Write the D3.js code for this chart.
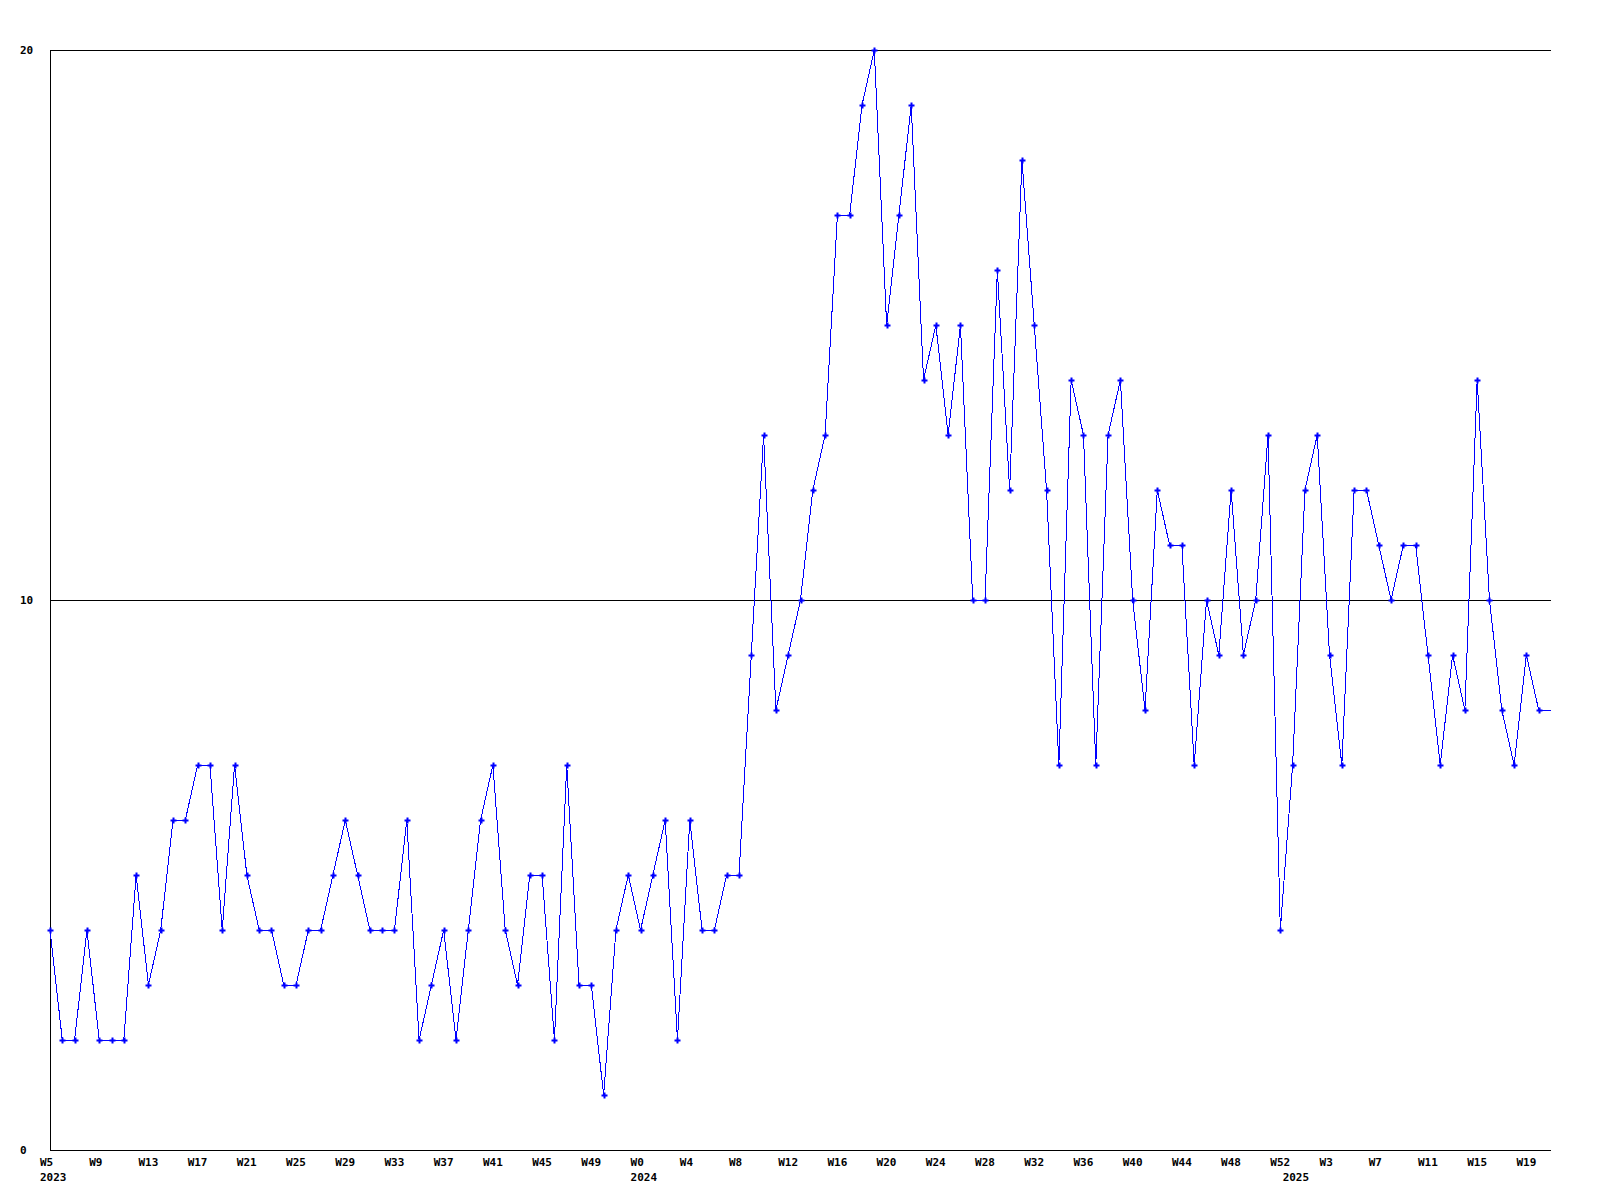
<!DOCTYPE html>
<html>
<head>
<meta charset="utf-8">
<script src="https://cdn.jsdelivr.net/npm/d3@7"></script>
<style>
  html, body { margin: 0; padding: 0; background: #ffffff; }
  svg { display: block; }
  text { font-family: "DejaVu Sans Mono", "Liberation Mono", monospace; font-weight: bold; font-size: 11px; fill: #000; }
</style>
</head>
<body>
<svg id="chart" width="1600" height="1200"></svg>
<script>
// ---- data ----
// weekly buckets: year, first week, last week
const yearRanges = [
  { year: "2023", first: 5, last: 52 },
  { year: "2024", first: 0, last: 52 },
  { year: "2025", first: 0, last: 21 }
];
const values = [
  4,2,2,4,2,2,2,5,3,4,
  6,6,7,7,4,7,5,4,4,3,
  3,4,4,5,6,5,4,4,4,6,
  2,3,4,2,4,6,7,4,3,5,
  5,2,7,3,3,1,4,5,4,5,
  6,2,6,4,4,5,5,9,13,8,
  9,10,12,13,17,17,19,20,15,17,
  19,14,15,13,15,10,10,16,12,18,
  15,12,7,14,13,7,13,14,10,8,
  12,11,11,7,10,9,12,9,10,13,
  4,7,12,13,9,7,12,12,11,10,
  11,11,9,7,9,8,14,10,8,7,
  9,8,8
];
const yTicks = [0, 10, 20];
const labelEvery = 4;

(function () {
  // categories built from the week ranges
  const categories = [];
  yearRanges.forEach(r => {
    for (let w = r.first; w <= r.last; w++) categories.push({ year: r.year, week: w });
  });
  const data = values.map((v, i) => ({ i, v, cat: categories[i] }));

  // ---- layout ----
  const svg = d3.select("#chart");
  const mL = 50, mR = 1551, mT = 50, mB = 1150;
  const x = d3.scaleLinear().domain([0, categories.length - 1]).range([mL, mR]);
  const y = d3.scaleLinear().domain([0, 20]).range([mB, mT]);

  // grid lines (10, 20)
  svg.append("g").selectAll("line")
    .data(yTicks.filter(t => t > 0))
    .join("line")
    .attr("x1", mL).attr("x2", mR)
    .attr("y1", d => Math.round(y(d)) + 0.5).attr("y2", d => Math.round(y(d)) + 0.5)
    .attr("stroke", "#000").attr("stroke-width", 1)
    .attr("shape-rendering", "crispEdges");

  // axis lines
  svg.append("line")
    .attr("x1", mL + 0.5).attr("x2", mL + 0.5)
    .attr("y1", mT).attr("y2", mB + 1)
    .attr("stroke", "#000").attr("shape-rendering", "crispEdges");
  svg.append("line")
    .attr("x1", mL).attr("x2", mR)
    .attr("y1", mB + 0.5).attr("y2", mB + 0.5)
    .attr("stroke", "#000").attr("shape-rendering", "crispEdges");

  // y labels
  svg.append("g").selectAll("text")
    .data(yTicks)
    .join("text")
    .attr("x", 20)
    .attr("y", d => y(d) + 4)
    .text(d => d);

  // x labels (every 4th week)
  svg.append("g").selectAll("text")
    .data(data.filter(d => d.i % labelEvery === 0))
    .join("text")
    .attr("x", d => x(d.i) - 10)
    .attr("y", mB + 16)
    .text(d => "W" + d.cat.week);

  // year labels at first bucket of each year
  svg.append("g").selectAll("text")
    .data(data.filter((d, k) => k === 0 || data[k - 1].cat.year !== d.cat.year))
    .join("text")
    .attr("x", d => x(d.i) - 10)
    .attr("y", mB + 31)
    .text(d => d.cat.year);

  // line
  const line = d3.line().x(d => x(d.i)).y(d => y(d.v));
  svg.append("path")
    .datum(data)
    .attr("d", line)
    .attr("fill", "none")
    .attr("stroke", "#0000ff")
    .attr("stroke-width", 1)
    .attr("shape-rendering", "crispEdges");

  // markers (the final, still-open week sits on the right border without a marker)
  const sym = d3.symbol().type(d3.symbolCross).size(20);
  svg.append("g").selectAll("path")
    .data(data.slice(0, -1))
    .join("path")
    .attr("transform", d => `translate(${Math.round(x(d.i)) + 0.5},${Math.round(y(d.v)) + 0.5})`)
    .attr("d", sym)
    .attr("fill", "#0000ff")
    .attr("stroke", "none");
})();
</script>
</body>
</html>
